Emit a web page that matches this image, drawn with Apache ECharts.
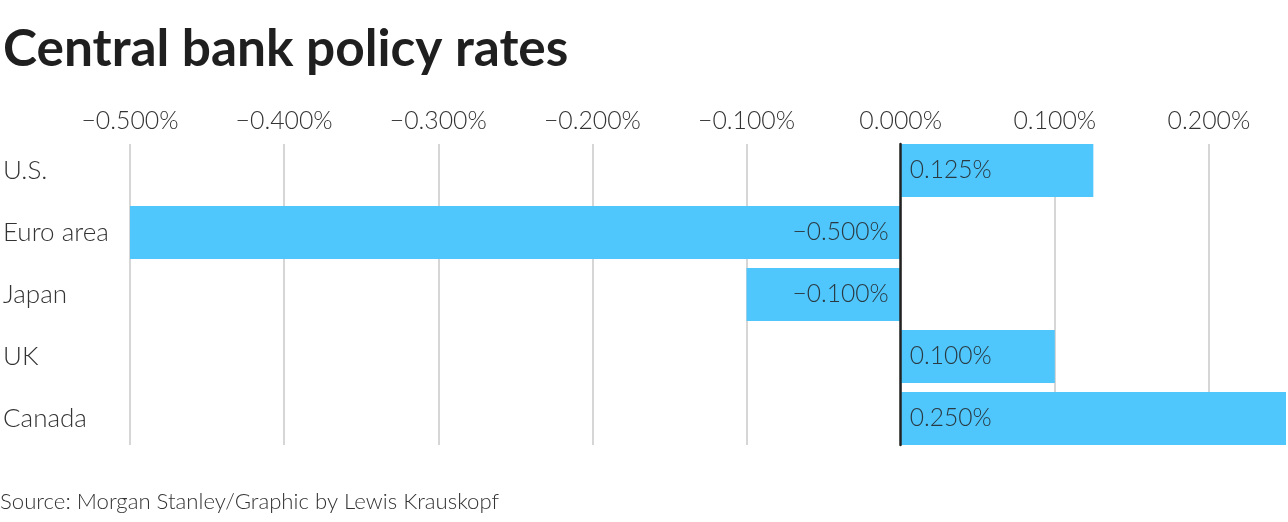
<!DOCTYPE html>
<html>
<head>
<meta charset="utf-8">
<style>
html,body{margin:0;padding:0;background:#fff;}
#chart{width:1288px;height:522px;}
</style>
<script src="https://cdn.jsdelivr.net/npm/echarts@6/dist/echarts.min.js"></script>
</head>
<body>
<div id="chart"></div>
<script>
const categories = ['U.S.', 'Euro area', 'Japan', 'UK', 'Canada'];
const rates = [0.125, -0.5, -0.1, 0.1, 0.25];
const tickValues = [-0.5, -0.4, -0.3, -0.2, -0.1, 0, 0.1, 0.2];
const titleText = 'Central bank policy rates';
const sourceText = 'Source: Morgan Stanley/Graphic by Lewis Krauskopf';

const FONT = 'Lato, "Noto Sans", sans-serif';
function fmt(v) {
  const s = Math.abs(v).toFixed(3) + '%';
  return (v < -1e-9 ? '\u2212' : '') + s;
}

const chart = echarts.init(document.getElementById('chart'), null, {renderer: 'canvas'});
const option = {
  animation: false,
  backgroundColor: '#fff',
  title: {
    text: titleText,
    left: -2, top: 19,
    textStyle: {fontFamily: FONT, fontSize: 51.4, fontWeight: 'bold', color: '#1f1f1f'}
  },
  graphic: [{
    type: 'text', left: 0, top: 491,
    style: {text: sourceText, fontFamily: FONT, fontSize: 22.2, fontWeight: 300, fill: '#333'}
  }],
  grid: [
    {left: 130, right: 2, top: 139.5, height: 310},
    {left: 130, right: 2, top: 144, height: 301}
  ],
  xAxis: [
    {gridIndex: 0, type: 'value', min: -0.5, max: 0.25, show: false},
    {gridIndex: 1, type: 'value', position: 'top', min: -0.5, max: 0.25, interval: 0.1,
     axisLine: {show: false}, axisTick: {show: false},
     axisLabel: {margin: 10, fontFamily: FONT, fontSize: 24.8, fontWeight: 300, color: '#333',
       showMaxLabel: false,
       formatter: function (v) { return v > 0.21 ? '' : fmt(Math.round(v * 1000) / 1000); }},
     splitLine: {show: true, showMaxLine: false, lineStyle: {color: '#c8c8c8', width: 1.5}}}
  ],
  yAxis: [
    {gridIndex: 0, type: 'category', data: categories, inverse: true,
     axisLine: {show: false}, axisTick: {show: false},
     axisLabel: {align: 'left', margin: 127, fontFamily: FONT, fontSize: 26, fontWeight: 300, color: '#333'}},
    {gridIndex: 1, type: 'category', data: [''], z: 5,
     axisLine: {show: true, onZero: true, lineStyle: {color: '#222', width: 2.5}},
     axisTick: {show: false}, axisLabel: {show: false}}
  ],
  series: [{
    type: 'bar',
    xAxisIndex: 0, yAxisIndex: 0,
    barWidth: 53,
    itemStyle: {color: '#4fc6fc'},
    data: rates.map(function (v) {
      return {value: v, label: {position: v < 0 ? 'insideRight' : 'insideLeft', distance: v < 0 ? 12 : 9}};
    }),
    label: {show: true, fontFamily: FONT, fontSize: 24.6, fontWeight: 300, color: '#2a3a42',
      formatter: function (p) { return fmt(p.value); }}
  }]
};
chart.setOption(option);
</script>
</body>
</html>
